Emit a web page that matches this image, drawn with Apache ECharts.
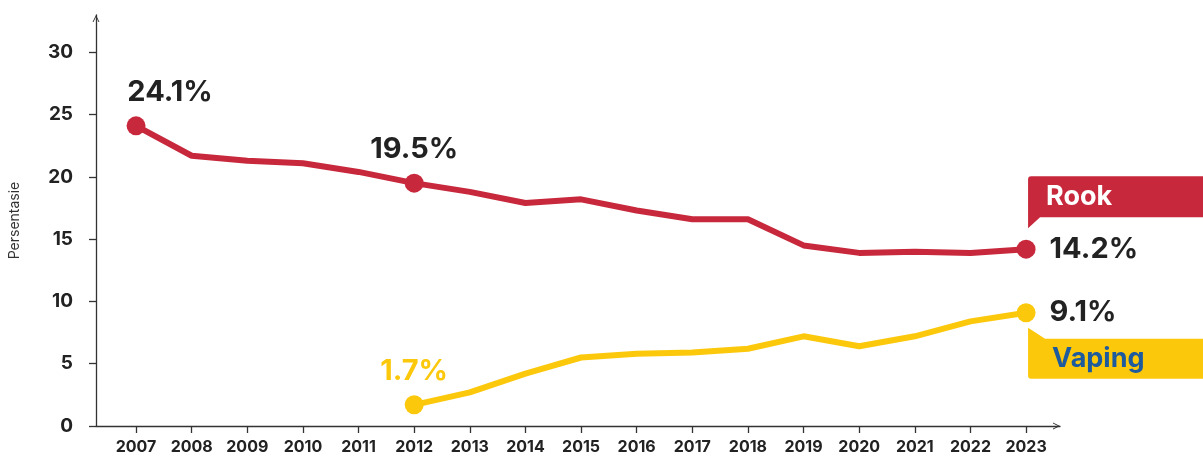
<!DOCTYPE html>
<html>
<head>
<meta charset="utf-8">
<script src="https://cdn.jsdelivr.net/npm/echarts@6/dist/echarts.min.js"></script>
<style>
  html, body { margin: 0; padding: 0; background: #ffffff; }
  #chart { width: 1203px; height: 460px; }
</style>
</head>
<body>
<div id="chart"></div>
<script>
// Survey years and yearly prevalence (percent)
const years = [2007, 2008, 2009, 2010, 2011, 2012, 2013, 2014, 2015, 2016, 2017, 2018, 2019, 2020, 2021, 2022, 2023];
const rookValues = [24.1, 21.7, 21.3, 21.1, 20.4, 19.5, 18.8, 17.9, 18.2, 17.3, 16.6, 16.6, 14.5, 13.9, 14.0, 13.9, 14.2];
const vapingValues = [null, null, null, null, null, 1.7, 2.7, 4.2, 5.5, 5.8, 5.9, 6.2, 7.2, 6.4, 7.2, 8.4, 9.1];
const yTicks = [0, 5, 10, 15, 20, 25, 30];
const seriesNames = ['Rook', 'Vaping'];

// Points that get a dot and a value label
const rookHighlights = [2007, 2012, 2023];
const vapingHighlights = [2012, 2023];

const RED = '#C8283C';
const YELLOW = '#FCC80C';
const BLUE = '#1D5A9E';
const INK = '#222222';
const FONT = 'Inter, "DejaVu Sans", sans-serif';

// Open chevron used as the axis arrow head
const chevron = 'path://M0,10 L5,0 L10,10 L8.6,10 L5,2.8 L1.4,10 Z';
// Flag-shaped name tags attached to the last point of each line
const flagDown = 'path://M0,3 Q0,0 3,0 L180,0 L180,41 L12,41 L0,52 Z';
const flagUp = 'path://M0,0 L17,11 L180,11 L180,51 L3,51 Q0,51 0,48 Z';

function valueLabel(color, pos, offset) {
  return {
    show: true,
    position: pos,
    distance: pos === 'right' ? 14 : 10,
    offset: offset || [0, 0],
    formatter: p => p.value[1] + '%',
    color: color,
    fontFamily: FONT,
    fontWeight: 'bold',
    fontSize: 29,
    letterSpacing: -1.2
  };
}

// The first highlighted value of each line takes its own colour; later ones are dark
function buildData(values, highlights, firstColor) {
  const lastYear = years[years.length - 1];
  return years.map((yr, i) => {
    const item = { value: [yr, values[i]] };
    if (values[i] !== null && highlights.indexOf(yr) >= 0) {
      item.symbol = 'circle';
      item.symbolSize = 19;
      let pos = 'top', off = [0, 0];
      if (yr === lastYear) pos = 'right';
      if (yr === years[0]) off = [34, 0];
      const color = (yr === highlights[0]) ? firstColor : INK;
      item.label = valueLabel(color, pos, off);
    }
    return item;
  });
}

const last = years.length - 1;

const axisArrow = {
  show: true,
  lineStyle: { color: '#333333', width: 1.3 },
  symbol: ['none', chevron],
  symbolSize: [10, 7],
  symbolOffset: [0, -3.5]
};

const option = {
  animation: false,
  backgroundColor: '#ffffff',
  grid: { left: 96, right: 143, top: 15, bottom: 34, outerBoundsMode: 'none', containLabel: false },
  xAxis: {
    type: 'value',
    min: 2006.28,
    max: 2023.61,
    splitLine: { show: false },
    axisLine: axisArrow,
    axisTick: { show: true, customValues: years, length: 7, lineStyle: { color: '#333333', width: 1.3 } },
    axisLabel: {
      customValues: years,
      formatter: v => String(v),
      margin: 13,
      color: INK,
      fontFamily: FONT,
      fontWeight: 'bold',
      fontSize: 16
    }
  },
  yAxis: {
    type: 'value',
    min: 0,
    max: 33,
    name: 'Persentasie',
    nameLocation: 'middle',
    nameRotate: 90,
    nameGap: 74,
    nameTextStyle: { color: '#333333', fontFamily: FONT, fontSize: 14 },
    splitLine: { show: false },
    axisLine: axisArrow,
    axisTick: { show: true, customValues: yTicks, length: 7, lineStyle: { color: '#333333', width: 1.3 } },
    axisLabel: {
      customValues: yTicks,
      margin: 23,
      color: INK,
      fontFamily: FONT,
      fontWeight: 'bold',
      fontSize: 19
    }
  },
  series: [
    {
      name: seriesNames[0],
      type: 'line',
      data: buildData(rookValues, rookHighlights, INK),
      symbol: 'none',
      showSymbol: true,
      itemStyle: { color: RED },
      lineStyle: { color: RED, width: 6 },
      z: 3,
      markPoint: {
        symbol: flagDown,
        symbolSize: [180, 52],
        symbolKeepAspect: false,
        symbolOffset: [92, -47],
        itemStyle: { color: RED },
        label: {
          show: true,
          position: 'insideLeft',
          distance: 18,
          offset: [0, -5],
          formatter: seriesNames[0],
          color: '#ffffff',
          fontFamily: FONT,
          fontWeight: 'bold',
          fontSize: 27
        },
        data: [{ coord: [years[last], rookValues[last]] }]
      }
    },
    {
      name: seriesNames[1],
      type: 'line',
      data: buildData(vapingValues, vapingHighlights, YELLOW),
      symbol: 'none',
      showSymbol: true,
      connectNulls: false,
      itemStyle: { color: YELLOW },
      lineStyle: { color: YELLOW, width: 6 },
      z: 3,
      markPoint: {
        symbol: flagUp,
        symbolSize: [180, 51],
        symbolKeepAspect: false,
        symbolOffset: [92, 40.5],
        itemStyle: { color: YELLOW },
        label: {
          show: true,
          position: 'insideLeft',
          distance: 24,
          offset: [0, 5.5],
          formatter: seriesNames[1],
          color: BLUE,
          fontFamily: FONT,
          fontWeight: 'bold',
          fontSize: 27
        },
        data: [{ coord: [years[last], vapingValues[last]] }]
      }
    }
  ]
};

const chart = echarts.init(document.getElementById('chart'), null, { renderer: 'canvas' });
chart.setOption(option);
</script>
</body>
</html>
